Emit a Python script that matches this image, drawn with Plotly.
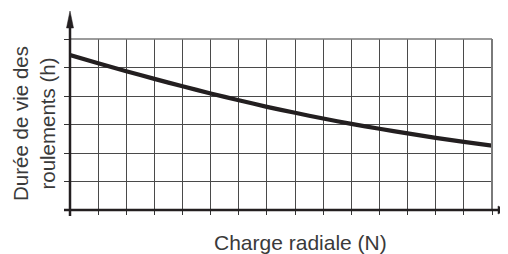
import plotly.graph_objects as go

# Data (grid units)
charge = list(range(16))
duree = [5.44, 5.15, 4.87, 4.60, 4.34, 4.09, 3.85, 3.62, 3.41, 3.21, 3.02, 2.85, 2.69, 2.53, 2.39, 2.26]
x_title = "Charge radiale (N)"
y_title = "Durée de vie des<br>roulements (h)"

# page has an 8px body margin; lay out in page pixels
OFF = 8
W, H = 508 - OFF, 254 - OFF
PL, PR, PT, PB = 70, 492, 39, 210  # plot area in page pixels
L, T = PL - OFF, PT - OFF
R, B = 508 - PR, 254 - PB
pw, ph = PR - PL, PB - PT

def px(x):
    return (x - PL) / pw

def py(y):
    return (PB - y) / ph

ink = "#231f20"
fig = go.Figure()
fig.add_trace(go.Scatter(x=charge, y=duree, mode="lines",
                         line=dict(color=ink, width=4.2, shape="spline", smoothing=0.6),
                         hoverinfo="skip"))

fig.update_xaxes(range=[0, 15], dtick=1, tick0=0, showgrid=True, gridcolor="#4a4a4a", gridwidth=1.2,
                 showticklabels=False, ticks="outside", ticklen=4, tickcolor="#333", tickwidth=1.2,
                 zeroline=False, showline=False, fixedrange=True)
fig.update_yaxes(range=[0, 6], dtick=1, tick0=0, showgrid=True, gridcolor="#4a4a4a", gridwidth=1.2,
                 showticklabels=False, ticks="outside", ticklen=5, tickcolor="#333", tickwidth=1.2,
                 zeroline=False, showline=False, fixedrange=True)

shapes = [
    # top and right border (gray)
    dict(type="line", xref="paper", yref="paper", x0=0, x1=1, y0=1, y1=1, line=dict(color="#7a7a7a", width=1.5)),
    dict(type="line", xref="paper", yref="paper", x0=1, x1=1, y0=0, y1=1, line=dict(color="#7a7a7a", width=2)),
    # x axis
    dict(type="line", xref="paper", yref="paper", x0=px(64), x1=px(500), y0=0, y1=0, line=dict(color=ink, width=2.5)),
    dict(type="path", xref="paper", yref="paper",
         path=f"M {px(498)} {py(206)} L {px(507)} {py(210)} L {px(498)} {py(214)} Z",
         fillcolor=ink, line=dict(color=ink, width=0.5)),
    # y axis
    dict(type="line", xref="paper", yref="paper", x0=0, x1=0, y0=py(216), y1=py(26), line=dict(color=ink, width=2.5)),
    dict(type="path", xref="paper", yref="paper",
         path=f"M {px(66.5)} {py(28)} L {px(70)} {py(11)} L {px(73.5)} {py(28)} Z",
         fillcolor=ink, line=dict(color=ink, width=0.5)),
]

fx = dict(family="Liberation Sans, Arial, sans-serif", size=21, color="#3a3a3a")
fy = dict(family="Liberation Sans, Arial, sans-serif", size=20.5, color="#3a3a3a")
annotations = [
    dict(text=x_title, xref="paper", yref="paper", x=px(300), y=py(242), xanchor="center", yanchor="middle",
         showarrow=False, font=fx),
    dict(text=y_title, xref="paper", yref="paper", x=px(34), y=py(124), xanchor="center", yanchor="middle",
         showarrow=False, textangle=-90, font=fy),
]

fig.update_layout(width=W, height=H, margin=dict(l=L, r=R, t=T, b=B),
                  paper_bgcolor="white", plot_bgcolor="white", showlegend=False,
                  shapes=shapes, annotations=annotations)

fig.write_html("out.html", config={"displayModeBar": False})
